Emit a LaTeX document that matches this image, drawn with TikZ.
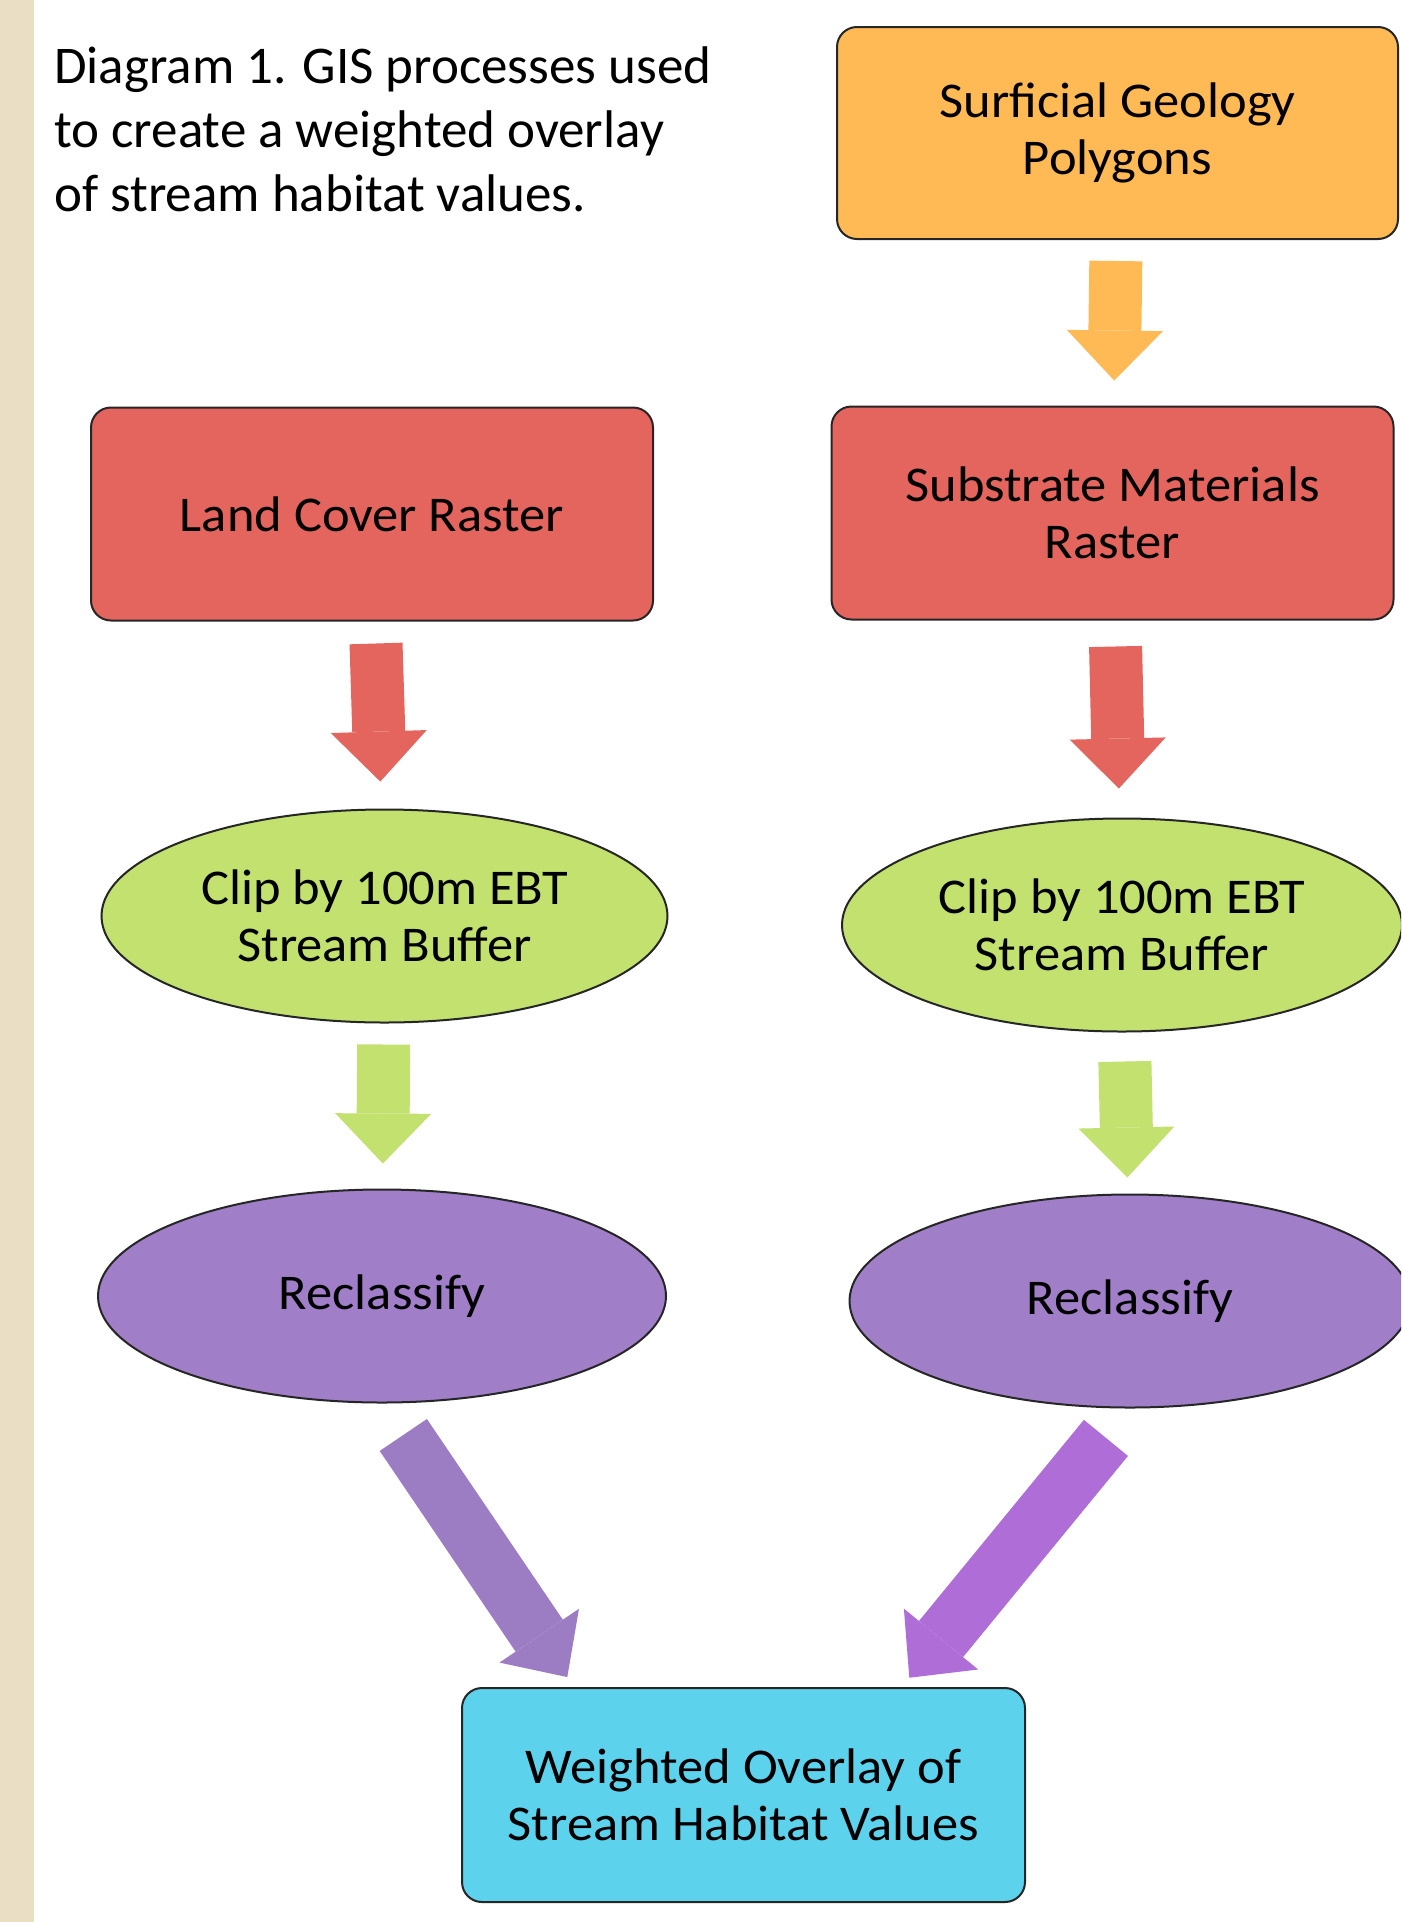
\documentclass[tikz,border=0pt]{standalone}
\usepackage{fontspec}
\setmainfont{Carlito}
\newfontfamily\boxfont[FakeStretch=1.05]{Carlito}
\usetikzlibrary{shapes.geometric,arrows.meta,calc,positioning}

\definecolor{strip}{RGB}{234,222,197}
\definecolor{geoorange}{RGB}{255,185,85}
\definecolor{rastred}{RGB}{228,100,94}
\definecolor{clipgreen}{RGB}{195,225,110}
\definecolor{reclpurple}{RGB}{160,127,200}
\definecolor{diagl}{RGB}{156,125,196}
\definecolor{diagr}{RGB}{175,110,215}
\definecolor{overlaycyan}{RGB}{92,210,236}

\begin{document}
\begin{tikzpicture}[x=1pt,y=-1pt,
	box/.style={draw=black!85,line width=2pt,rounded corners=20pt,minimum width=562pt,minimum height=213pt,align=center,inner sep=0pt,font=\boxfont\fontsize{50}{57}\selectfont},
	oval/.style={ellipse,draw=black!85,line width=2pt,minimum width=566pt,minimum height=213pt,align=center,inner sep=0pt,font=\boxfont\fontsize{50}{57}\selectfont},
	fat/.style={line width=#1,-{Triangle[width=96pt,length=50pt,line width=0pt]},shorten <=22pt,shorten >=27pt}]

\useasboundingbox (0,0) rectangle (1401,1922);
\clip (0,0) rectangle (1401,1922);
\fill [white] (0,0) rectangle (1401,1922);
\fill [strip] (0,0) rectangle (34,1922);

\node [anchor=north west,align=left,inner sep=0pt,font=\fontsize{53}{64}\selectfont] (title) at (54,46) {Diagram 1. GIS processes used\\to create a weighted overlay\\of stream habitat values.};

\node [box,fill=geoorange,minimum width=561pt,minimum height=212pt] (geo) at (1117.5,133) {Surficial Geology\\Polygons};
\node [box,fill=rastred] (land) at (372,514) {Land Cover Raster};
\node [box,fill=rastred] (subs) at (1112.5,513) {Substrate Materials\\Raster};
\node [oval,fill=clipgreen] (clipl) at (384.5,916) {Clip by 100m EBT\\Stream Buffer};
\node [oval,fill=clipgreen,minimum width=560pt] (clipr) at (1122,925) {Clip by 100m EBT\\Stream Buffer};
\node [oval,fill=reclpurple,minimum width=568pt] (recl) at (382,1296) {Reclassify};
\node [oval,fill=reclpurple,minimum width=561pt] (recr) at (1130,1301) {Reclassify};
\node [box,fill=overlaycyan,minimum width=563pt,minimum height=214pt] (wo) at (743.5,1795) {Weighted Overlay of\\Stream Habitat Values};

\coordinate (inl) at ($(wo.north west)!.2!(wo.north east)$);
\coordinate (inr) at ($(wo.north west)!.78!(wo.north east)$);

\path [fat=53pt]
	(geo)
		edge [geoorange,shorten <=21pt,shorten >=25pt] (subs)
	(land)
		edge [rastred] (clipl)
	(subs)
		edge [rastred,shorten <=26pt,shorten >=29pt] (clipr)
	(clipl)
		edge [clipgreen,shorten <=21pt,shorten >=25pt] (recl)
	(clipr)
		edge [clipgreen,shorten <=29pt,shorten >=16pt] (recr)
	(recl.south)
		edge [diagl,line width=57pt,shorten <=38pt,shorten >=12pt] (inl)
	(recr.south)
		edge [diagr,line width=57pt,shorten <=38pt,shorten >=12pt] (inr)
;

\end{tikzpicture}
\end{document}
